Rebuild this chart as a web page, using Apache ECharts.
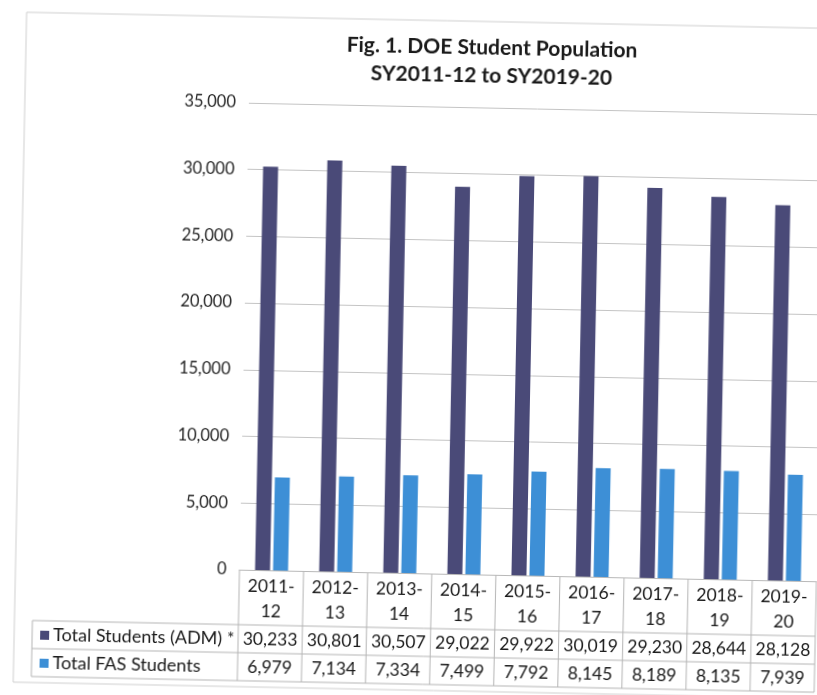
<!DOCTYPE html>
<html>
<head>
<meta charset="utf-8">
<script src="https://cdn.jsdelivr.net/npm/echarts@6/dist/echarts.min.js"></script>
<style>
  html, body { margin: 0; padding: 0; background: #fff; overflow: hidden; width: 817px; height: 695px; }
  #wrap { position: absolute; left: 0; top: 0; width: 860px; height: 720px;
          transform-origin: 408px 347px; transform: rotate(1.15deg); }
  #chart { width: 860px; height: 720px; }
</style>
</head>
<body>
<div id="wrap"><div id="chart"></div></div>
<script>
// School years (categories) and enrolment counts
const categories = ['2011-12', '2012-13', '2013-14', '2014-15', '2015-16', '2016-17', '2017-18', '2018-19', '2019-20'];
const admStudents = [30233, 30801, 30507, 29022, 29922, 30019, 29230, 28644, 28128];
const fasStudents = [6979, 7134, 7334, 7499, 7792, 8145, 8189, 8135, 7939];
const seriesNames = ['Total Students (ADM) *', 'Total FAS Students'];
const seriesColors = ['#4a4a78', '#3d8fd6'];
const yMin = 0, yMax = 35000, yStep = 5000;
const titleLines = ['Fig. 1. DOE Student Population', 'SY2011-12 to SY2019-20'];

const FONT = 'Lato, "Open Sans", sans-serif';
const fmt = v => v.toLocaleString('en-US');

const chart = echarts.init(document.getElementById('chart'), null, { renderer: 'canvas' });

const GRID = { left: 244, top: 106, width: 577, height: 467 };

chart.setOption({
  animation: false,
  backgroundColor: '#fff',
  title: {
    text: titleLines.join('\n'),
    left: 481, top: 27,
    textAlign: 'center',
    textStyle: { fontFamily: FONT, fontSize: 21, fontWeight: 'bold', color: '#1a1a1a', lineHeight: 28 }
  },
  grid: GRID,
  xAxis: {
    type: 'category',
    data: categories,
    axisLine: { show: true, lineStyle: { color: '#b8b8b8', width: 1 } },
    axisTick: { show: false },
    axisLabel: { show: false }
  },
  yAxis: {
    type: 'value',
    min: yMin, max: yMax, interval: yStep,
    axisLine: { show: false },
    axisTick: { show: false },
    axisLabel: { fontFamily: FONT, fontSize: 16.5, color: '#262626', margin: 13, formatter: v => fmt(v) },
    splitLine: { lineStyle: { color: '#c4c4c4', width: 1 } }
  },
  series: [
    { name: seriesNames[0], type: 'bar', data: admStudents, barWidth: 15, barGap: '20%',
      itemStyle: { color: seriesColors[0] } },
    { name: seriesNames[1], type: 'bar', data: fasStudents, barWidth: 15, barGap: '20%',
      itemStyle: { color: seriesColors[1] } }
  ]
});

// Data table under the plot, laid out on the category axis
function buildTable() {
  const zeroY = chart.convertToPixel({ yAxisIndex: 0 }, 0);
  const c0 = chart.convertToPixel({ xAxisIndex: 0 }, 0);
  const c1 = chart.convertToPixel({ xAxisIndex: 0 }, 1);
  const colW = c1 - c0;
  const leftEdge = c0 - colW / 2;
  const rightEdge = leftEdge + colW * categories.length;
  const row1Top = zeroY + 55, row2Top = row1Top + 28, tableBottom = row2Top + 28;
  const legendLeft = 38;
  const lineStyle = { stroke: '#b5b5b5', lineWidth: 1 };
  const els = [];
  const hline = (x1, x2, y) => els.push({ type: 'line', shape: { x1, y1: y, x2, y2: y }, style: lineStyle, silent: true });
  const vline = (x, y1, y2) => els.push({ type: 'line', shape: { x1: x, y1, x2: x, y2 }, style: lineStyle, silent: true });
  const txt = (x, y, text, align, size) => els.push({
    type: 'text', x, y, silent: true,
    style: { text, fill: '#1a1a1a', font: (size || 17.5) + 'px ' + FONT, align: align || 'center', verticalAlign: 'middle' }
  });

  // outer frame of the chart area
  els.push({ type: 'rect', shape: { x: 20, y: 20, width: 900, height: 670 },
             style: { fill: null, stroke: '#cfcfcf', lineWidth: 1 }, silent: true });

  for (let i = 0; i <= categories.length; i++) vline(leftEdge + colW * i, zeroY, tableBottom);
  vline(legendLeft, row1Top, tableBottom);
  hline(legendLeft, rightEdge, row1Top);
  hline(legendLeft, rightEdge, row2Top);
  hline(legendLeft, rightEdge, tableBottom);

  categories.forEach((c, i) => {
    const cx = chart.convertToPixel({ xAxisIndex: 0 }, i);
    const parts = c.split('-');
    txt(cx, zeroY + 16, parts[0] + '-');
    txt(cx, zeroY + 41, parts[1]);
    txt(cx, row1Top + 14, fmt(admStudents[i]));
    txt(cx, row2Top + 14, fmt(fasStudents[i]));
  });

  [row1Top, row2Top].forEach((top, k) => {
    els.push({ type: 'rect', shape: { x: legendLeft + 8, y: top + 10, width: 9, height: 9 },
               style: { fill: seriesColors[k] }, silent: true });
    txt(legendLeft + 21, top + 14, seriesNames[k], 'left', 18);
  });

  chart.setOption({ graphic: { elements: els } });
}
buildTable();
</script>
</body>
</html>
